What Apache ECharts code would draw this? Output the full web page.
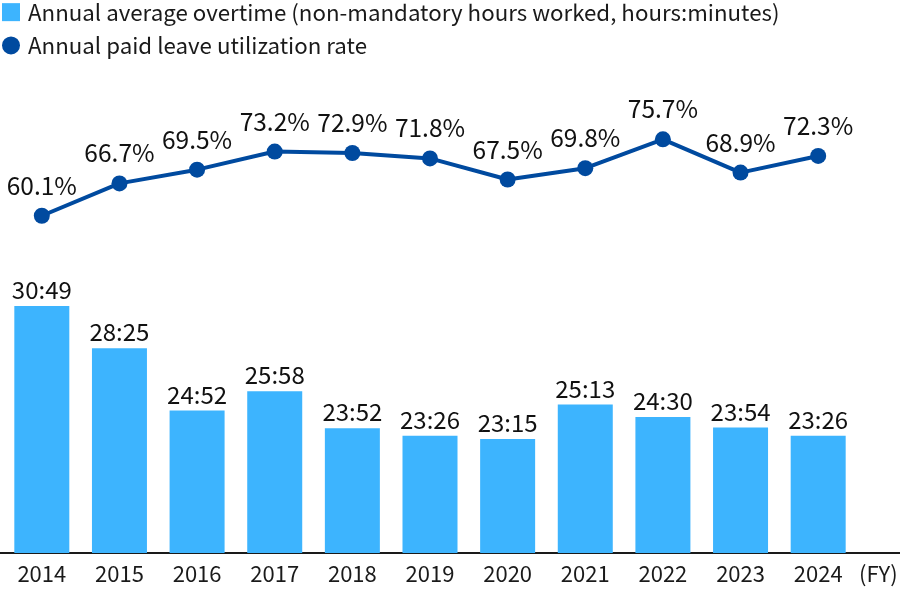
<!DOCTYPE html>
<html>
<head>
<meta charset="utf-8">
<script src="https://cdn.jsdelivr.net/npm/echarts@6/dist/echarts.min.js"></script>
<style>
html,body{margin:0;padding:0;background:#fff;}
#chart{width:900px;height:592px;}
</style>
</head>
<body>
<div id="chart"></div>
<script>
var years = ['2014','2015','2016','2017','2018','2019','2020','2021','2022','2023','2024'];
var overtime = ['30:49','28:25','24:52','25:58','23:52','23:26','23:15','25:13','24:30','23:54','23:26'];
var leaveRate = [60.1, 66.7, 69.5, 73.2, 72.9, 71.8, 67.5, 69.8, 75.7, 68.9, 72.3];
var seriesNames = ['Annual average overtime (non-mandatory hours worked, hours:minutes)', 'Annual paid leave utilization rate'];

function toHours(s){ var p = s.split(':'); return +p[0] + (+p[1])/60; }
var overtimeHours = overtime.map(toHours);

var FONT = '"Noto Sans CJK JP","Noto Sans",sans-serif';
var chart = echarts.init(document.getElementById('chart'));
chart.setOption({
  animation:false,
  textStyle:{fontFamily:FONT},
  legend:{
    orient:'vertical', left:2, top:1, padding:0, itemGap:11,
    itemWidth:18, itemHeight:18,
    textStyle:{fontFamily:FONT, fontSize:22.3, color:'#1a1a1a', lineHeight:22, padding:[0,0,0,3]},
    data:[{name:seriesNames[0], icon:'rect'},{name:seriesNames[1], icon:'circle'}]
  },
  grid:{left:3, right:43, top:100, bottom:39},
  xAxis:{
    type:'category', data:years,
    axisLine:{onZero:false, lineStyle:{color:'#1a1a1a', width:2}},
    axisTick:{show:false},
    axisLabel:{fontFamily:FONT, fontSize:22, color:'#1a1a1a', margin:10}
  },
  yAxis:[
    {type:'value', min:16.765, max:42.53, show:false, splitLine:{show:false}},
    {type:'value', min:-8.73, max:83.72, show:false, splitLine:{show:false}}
  ],
  series:[
    {
      name:seriesNames[0], type:'bar', yAxisIndex:0, barWidth:55,
      data:overtimeHours,
      itemStyle:{color:'#3db4fe'},
      label:{show:true, position:'top', distance:4, fontFamily:FONT, fontSize:24, color:'#111',
        formatter:function(p){return overtime[p.dataIndex];}}
    },
    {
      name:seriesNames[1], type:'line', yAxisIndex:1,
      data:leaveRate,
      symbol:'circle', symbolSize:16,
      lineStyle:{color:'#004a9f', width:4},
      itemStyle:{color:'#004a9f'},
      label:{show:true, position:'top', distance:10, fontFamily:FONT, fontSize:24.5, color:'#111',
        formatter:function(p){return p.value.toFixed(1)+'%';}}
    }
  ],
  graphic:[
    {type:'line', shape:{x1:0, y1:553, x2:4, y2:553}, style:{stroke:'#1a1a1a', lineWidth:2}},
    {type:'line', shape:{x1:856, y1:553, x2:900, y2:553}, style:{stroke:'#1a1a1a', lineWidth:2}},
    {type:'text', left:859, top:563, style:{text:'(FY)', font:'22px '+FONT, fill:'#1a1a1a'}}
  ]
});
</script>
</body>
</html>
